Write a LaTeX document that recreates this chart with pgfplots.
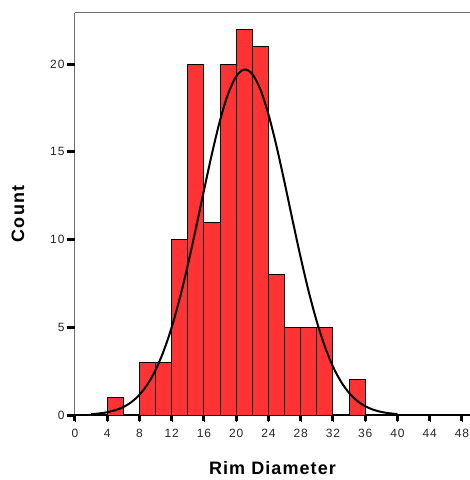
\documentclass[border=0pt]{standalone}
\usepackage{pgfplots}
\pgfplotsset{compat=1.18}
\usepackage{fontspec}
\setmainfont{Liberation Sans}
\definecolor{barred}{RGB}{255,51,51}
\definecolor{axgray}{RGB}{110,110,110}
\begin{document}
\begin{tikzpicture}
\useasboundingbox (0,0) rectangle (470pt,480pt);
\begin{axis}[
  at={(75pt,65pt)}, anchor=south west,
  scale only axis, width=395pt, height=402pt,
  xmin=0, xmax=49, ymin=0, ymax=22.92,
  axis x line*=bottom, axis y line*=left,
  x axis line style={black, line width=1.3pt},
  y axis line style={axgray, line width=1pt},
  xtick={0,4,...,48}, ytick={0,5,10,15,20},
  tick align=outside, major tick length=7pt,
  tick style={black},
  /pgf/number format/assume math mode=true,
  tick label style={font=\fontsize{12}{14}\selectfont\addfontfeature{LetterSpace=8}, text=black!85},
  xticklabel style={yshift=-4pt},
  xlabel={Rim Diameter}, ylabel={Count},
  label style={font=\fontsize{18}{20}\selectfont\bfseries\addfontfeature{LetterSpace=6}},
  xlabel style={at={(axis description cs:0.5,-0.1318)}, anchor=center},
  ylabel style={at={(axis description cs:-0.1443,0.5)}, anchor=center},
  clip=false,
]
\draw[axgray, line width=1pt] (rel axis cs:0,1) -- (rel axis cs:1,1);
\addplot[ybar, bar width=2, bar shift=0, fill=barred, draw=black, line width=1pt]
coordinates {
(5,1) (9,3) (11,3) (13,10) (15,20) (17,11) (19,20) (21,22) (23,21) (25,8) (27,5) (29,5) (31,5) (35,2)
};
\addplot[black, line width=2pt, smooth, no markers] coordinates {
(2,0.047) (3,0.088) (4,0.157) (5,0.272) (6,0.455) (7,0.737) (8,1.155) (9,1.75)
(10,2.57) (11,3.65) (12,5.01) (13,6.66) (14,8.56) (15,10.65) (16,12.81) (17,14.92)
(18,16.81) (19,18.32) (20,19.31) (21,19.70) (22,19.44) (23,18.56) (24,17.14)
(25,15.32) (26,13.25) (27,11.08) (28,8.97) (29,7.02) (30,5.32) (31,3.90) (32,2.76)
(33,1.90) (34,1.26) (35,0.81) (36,0.50) (37,0.30) (38,0.175) (39,0.099) (40,0.054)
};
\foreach \xx in {0,4,...,48} {
  \edef\temp{\noexpand\draw[black, line width=3pt] (axis cs:\xx,0) -- ++(0,-6pt);}
  \temp
}
\foreach \yy in {0,5,10,15,20} {
  \edef\temp{\noexpand\draw[black, line width=3pt] (axis cs:0,\yy) -- ++(-8pt,0);}
  \temp
}
\end{axis}
\end{tikzpicture}
\end{document}
